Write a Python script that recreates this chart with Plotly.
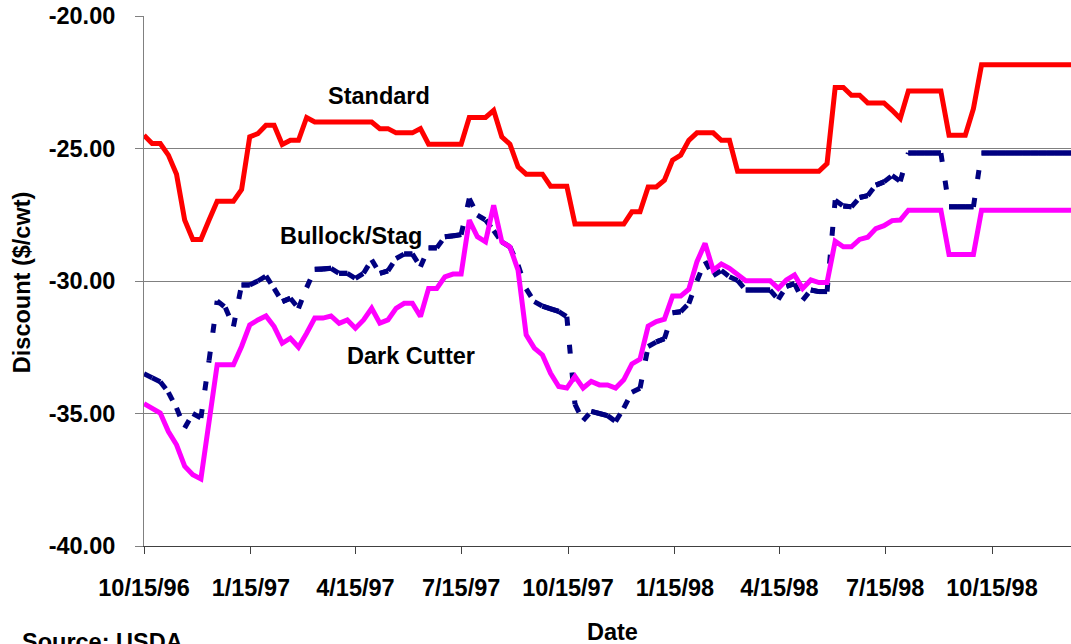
import pandas as pd
import plotly.graph_objects as go

# Weekly carcass discounts ($/cwt), starting 10/15/96
week_start = "1996-10-15"

standard = [
    -24.50, -24.81, -24.81, -25.25, -25.97, -27.70, -28.43, -28.43, -27.70, -26.99,
    -26.99, -26.99, -26.55, -24.56, -24.44, -24.12, -24.12, -24.85, -24.69, -24.69,
    -23.83, -24.00, -24.00, -24.00, -24.00, -24.00, -24.00, -24.00, -24.00, -24.25,
    -24.25, -24.41, -24.41, -24.41, -24.25, -24.84, -24.84, -24.84, -24.84, -24.84,
    -23.83, -23.83, -23.83, -23.56, -24.56, -24.84, -25.69, -25.97, -25.97, -25.97,
    -26.42, -26.42, -26.42, -27.85, -27.85, -27.85, -27.85, -27.85, -27.85, -27.85,
    -27.39, -27.39, -26.45, -26.45, -26.20, -25.44, -25.25, -24.69, -24.41, -24.41,
    -24.41, -24.69, -24.69, -25.86, -25.86, -25.86, -25.86, -25.86, -25.86, -25.86,
    -25.86, -25.86, -25.86, -25.86, -25.57, -22.70, -22.70, -22.99, -22.99, -23.28,
    -23.28, -23.28, -23.56, -23.87, -22.83, -22.83, -22.83, -22.83, -22.83, -24.50,
    -24.50, -24.50, -23.50, -21.84, -21.84, -21.84, -21.84, -21.84, -21.84, -21.84,
    -21.84, -21.84, -21.84, -21.84, -21.84,
]

bullock_stag = [
    -33.50, -33.65, -33.80, -34.20, -34.79, -35.55, -35.00, -35.17, -33.00, -30.75,
    -31.00, -31.72, -30.15, -30.15, -30.00, -29.81, -30.28, -30.78, -30.65, -31.03,
    -30.25, -29.56, -29.56, -29.52, -29.71, -29.71, -29.90, -29.71, -29.20, -29.71,
    -29.62, -29.15, -28.98, -28.98, -29.46, -28.75, -28.75, -28.33, -28.30, -28.25,
    -26.89, -27.51, -27.70, -28.10, -28.52, -28.71, -29.40, -30.30, -30.78, -30.95,
    -31.05, -31.15, -31.35, -34.65, -35.27, -34.92, -35.00, -35.08, -35.30, -34.80,
    -34.20, -34.05, -32.47, -32.30, -32.18, -31.20, -31.16, -30.85, -30.00, -29.25,
    -29.80, -29.60, -29.84, -29.98, -30.34, -30.34, -30.34, -30.34, -30.70, -30.20,
    -30.10, -30.72, -30.34, -30.40, -30.40, -26.95, -27.17, -27.20, -26.85, -26.78,
    -26.38, -26.26, -26.02, -26.24, -25.17, -25.17, -25.17, -25.17, -25.17, -27.20,
    -27.20, -27.20, -27.20, -25.17, -25.17, -25.17, -25.17, -25.17, -25.17, -25.17,
    -25.17, -25.17, -25.17, -25.17, -25.17,
]

dark_cutter = [
    -34.63, -34.80, -34.98, -35.68, -36.18, -36.99, -37.31, -37.47, -35.30, -33.16,
    -33.16, -33.16, -32.47, -31.66, -31.47, -31.32, -31.72, -32.35, -32.16, -32.50,
    -31.97, -31.40, -31.40, -31.32, -31.60, -31.47, -31.78, -31.47, -31.03, -31.59,
    -31.47, -31.03, -30.84, -30.84, -31.34, -30.28, -30.28, -29.84, -29.74, -29.74,
    -27.70, -28.33, -28.52, -27.14, -28.52, -28.71, -29.59, -32.03, -32.53, -32.79,
    -33.48, -33.98, -34.04, -33.60, -34.04, -33.79, -33.92, -33.92, -34.04, -33.73,
    -33.13, -32.95, -31.70, -31.53, -31.44, -30.57, -30.57, -30.31, -29.27, -28.58,
    -29.59, -29.36, -29.52, -29.74, -29.99, -29.99, -29.99, -29.99, -30.28, -29.96,
    -29.77, -30.28, -29.96, -30.06, -30.06, -28.50, -28.71, -28.71, -28.43, -28.35,
    -28.02, -27.91, -27.72, -27.70, -27.33, -27.33, -27.33, -27.33, -27.33, -29.00,
    -29.00, -29.00, -29.00, -27.33, -27.33, -27.33, -27.33, -27.33, -27.33, -27.33,
    -27.33, -27.33, -27.33, -27.33, -27.33,
]

dates = pd.date_range(week_start, periods=len(standard), freq="7D")

x_tick_dates = ["1996-10-15", "1997-01-15", "1997-04-15", "1997-07-15", "1997-10-15",
                "1998-01-15", "1998-04-15", "1998-07-15", "1998-10-15"]
x_tick_text = ["10/15/96", "1/15/97", "4/15/97", "7/15/97", "10/15/97",
               "1/15/98", "4/15/98", "7/15/98", "10/15/98"]
y_tick_vals = [-40, -35, -30, -25, -20]
y_tick_text = ["-40.00", "-35.00", "-30.00", "-25.00", "-20.00"]

FONT = "Liberation Sans, Arial, sans-serif"
NAVY = "#000080"

fig = go.Figure()

fig.add_trace(go.Scatter(x=dates, y=standard, mode="lines", name="Standard",
                         line=dict(color="#FF0000", width=5)))

# Dashed series: one sub-path per weekly step so the dash pattern restarts at
# each point; near-level steps (fully covered by one dash) are drawn as
# continuous runs so they read as solid without seams.
seg_x, seg_y = [], []
run_x, run_y = [], []
in_run = False
for k in range(len(dates) - 1):
    y0, y1 = bullock_stag[k], bullock_stag[k + 1]
    seg_x += [dates[k], dates[k + 1], None]
    seg_y += [y0, y1, None]
    if abs(y1 - y0) <= 0.14:
        if not in_run:
            run_x.append(dates[k])
            run_y.append(y0)
        run_x.append(dates[k + 1])
        run_y.append(y1)
        in_run = True
    elif in_run:
        run_x.append(None)
        run_y.append(None)
        in_run = False

fig.add_trace(go.Scatter(x=seg_x, y=seg_y, mode="lines", name="Bullock/Stag",
                         connectgaps=False,
                         line=dict(color=NAVY, width=5, dash="9px,19px")))
fig.add_trace(go.Scatter(x=run_x, y=run_y, mode="lines", name="Bullock/Stag",
                         connectgaps=False, showlegend=False,
                         line=dict(color=NAVY, width=5)))

fig.add_trace(go.Scatter(x=dates, y=dark_cutter, mode="lines", name="Dark Cutter",
                         line=dict(color="#FF00FF", width=5)))

label_font = dict(family=FONT, size=23.5, color="black", weight="bold")


def note(text, x, y, **kw):
    return dict(text=text, x=x, y=y, xref="paper", yref="paper", showarrow=False,
                xanchor=kw.pop("xanchor", "center"), yanchor="middle",
                font=label_font, **kw)


fig.update_layout(
    width=1071, height=644,
    margin=dict(l=144, r=0, t=16, b=98),
    paper_bgcolor="white", plot_bgcolor="white",
    showlegend=False,
    font=dict(family=FONT, size=23.5, color="black"),
    xaxis=dict(
        type="date", range=["1996-10-15", "1998-12-22"],
        tickvals=x_tick_dates, ticktext=x_tick_text,
        tickfont=label_font, showgrid=False, zeroline=False,
        showline=True, linecolor="#404040", linewidth=1,
        ticks="outside", ticklen=7, tickcolor="#404040",
        ticklabelstandoff=14,
    ),
    yaxis=dict(
        range=[-40, -20], tickvals=y_tick_vals, ticktext=y_tick_text,
        tickfont=label_font, showgrid=True, gridcolor="#808080", gridwidth=1,
        zeroline=False, showline=True, linecolor="#808080", linewidth=1,
        ticks="outside", ticklen=8, tickcolor="#808080",
        ticklabelstandoff=15,
    ),
    annotations=[
        note("Standard", 0.253, 0.849),
        note("Bullock/Stag", 0.2233, 0.585),
        note("Dark Cutter", 0.2875, 0.3585),
        note("Discount ($/cwt)", -0.1316, 0.496, textangle=-90),
        note("Date", 0.505, -0.162),
        note("Source: USDA", -0.1338, -0.182, xanchor="left"),
    ],
)

fig.write_html("out.html")
